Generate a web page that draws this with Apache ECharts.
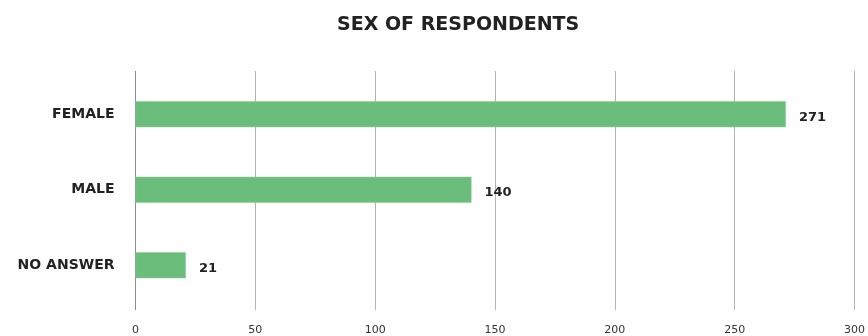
<!DOCTYPE html>
<html>
<head>
<meta charset="utf-8">
<script src="https://cdn.jsdelivr.net/npm/echarts@6/dist/echarts.min.js"></script>
<style>
  html, body { margin: 0; padding: 0; background: #fff; }
  #chart { width: 868px; height: 336px; }
</style>
</head>
<body>
<div id="chart"></div>
<script>
// Survey responses by sex
const categories = ['FEMALE', 'MALE', 'NO ANSWER'];
const counts = [271, 140, 21];
const xTicks = [0, 50, 100, 150, 200, 250, 300];

const chart = echarts.init(document.getElementById('chart'), null, { renderer: 'canvas' });

const gridLeft = 135.5;
const gridRight = 12.5;
const font = 'DejaVu Sans';

chart.setOption({
  animation: false,
  backgroundColor: '#ffffff',
  title: {
    text: 'SEX OF RESPONDENTS',
    left: 332,
    top: 11,
    textStyle: { fontFamily: font, fontWeight: 'bold', fontSize: 19, color: '#222222' }
  },
  grid: [
    // grid carrying the vertical gridlines and tick labels
    { left: gridLeft, right: gridRight, top: 71, bottom: 26 },
    // grid carrying the bars
    { left: gridLeft, right: gridRight, top: 76.5, bottom: 33 }
  ],
  xAxis: [
    {
      gridIndex: 0,
      type: 'value',
      min: xTicks[0],
      max: xTicks[xTicks.length - 1],
      interval: xTicks[1] - xTicks[0],
      axisLine: { show: false },
      axisTick: { show: false },
      axisLabel: { margin: 15, fontFamily: font, fontSize: 11, color: '#333333' },
      splitLine: { lineStyle: { color: ['#8c8c8c', '#b3b3b3', '#b3b3b3', '#b3b3b3', '#b3b3b3', '#b3b3b3', '#b3b3b3'], width: 1 } }
    },
    {
      gridIndex: 1,
      type: 'value',
      min: xTicks[0],
      max: xTicks[xTicks.length - 1],
      show: false
    }
  ],
  yAxis: [
    { gridIndex: 0, type: 'value', show: false },
    {
      gridIndex: 1,
      type: 'category',
      inverse: true,
      data: categories,
      axisLine: { show: false },
      axisTick: { show: false },
      splitLine: { show: false },
      axisLabel: { margin: 21, fontFamily: font, fontWeight: 'bold', fontSize: 14, color: '#222222' }
    }
  ],
  series: [
    {
      type: 'bar',
      xAxisIndex: 1,
      yAxisIndex: 1,
      data: counts,
      barWidth: 26,
      itemStyle: { color: '#6abd7a', borderColor: '#8fd09c', borderWidth: 0.5 },
      label: {
        show: true,
        position: 'right',
        distance: 13,
        offset: [0, 3],
        fontFamily: font,
        fontWeight: 'bold',
        fontSize: 13,
        color: '#222222'
      }
    }
  ]
});
</script>
</body>
</html>
